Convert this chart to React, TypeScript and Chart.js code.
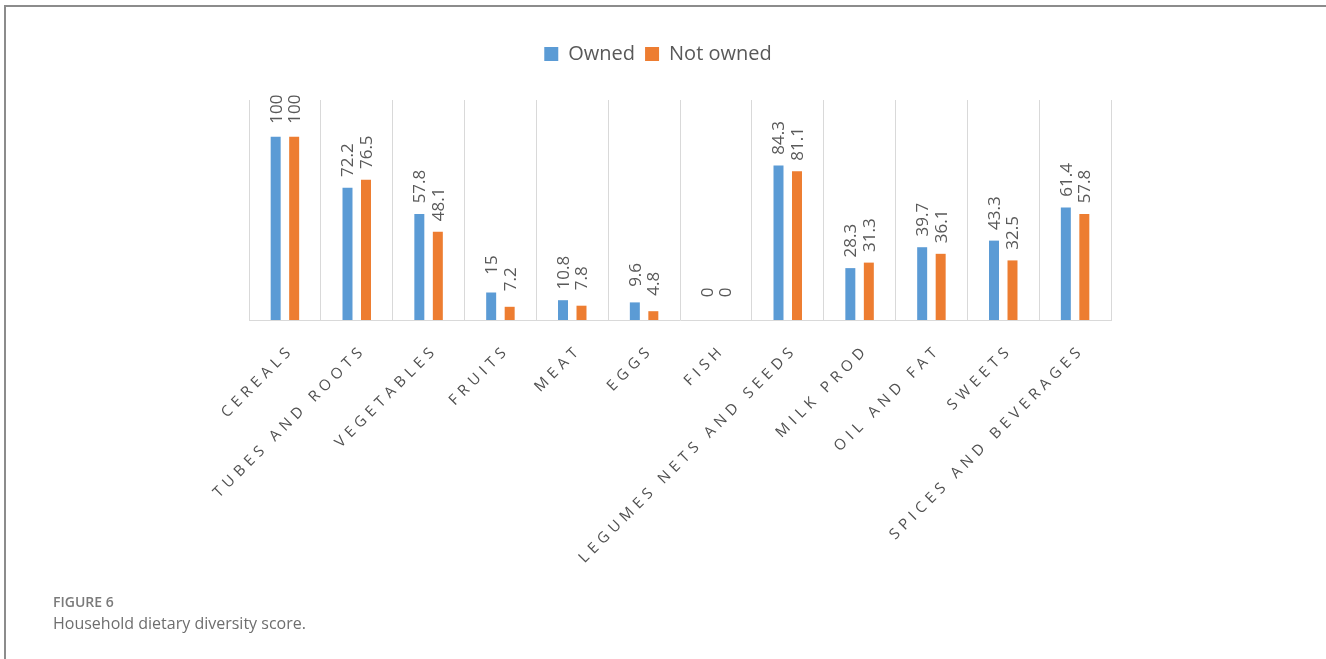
import React, { useEffect, useRef } from "react";
import { Chart, registerables } from "chart.js";

Chart.register(...registerables);

const categories = [
  "CEREALS",
  "TUBES AND ROOTS",
  "VEGETABLES",
  "FRUITS",
  "MEAT",
  "EGGS",
  "FISH",
  "LEGUMES NETS AND SEEDS",
  "MILK PROD",
  "OIL AND FAT",
  "SWEETS",
  "SPICES AND BEVERAGES",
];
const ownedValues = [100, 72.2, 57.8, 15, 10.8, 9.6, 0, 84.3, 28.3, 39.7, 43.3, 61.4];
const notOwnedValues = [100, 76.5, 48.1, 7.2, 7.8, 4.8, 0, 81.1, 31.3, 36.1, 32.5, 57.8];
const seriesNames = ["Owned", "Not owned"];

const FONT = "'Open Sans', 'Noto Sans', sans-serif";
const TEXT = "#595959";
const LABEL_SHIFT = 7;

const legendMargin = {
  id: "legendMargin",
  beforeInit(chart: any) {
    const legend = chart.legend;
    if (!legend) return;
    const orig = legend.fit;
    legend.fit = function fit() {
      orig.call(this);
      this.height += 26;
    };
  },
};

const valueLabels = {
  id: "valueLabels",
  afterDatasetsDraw(chart: any) {
    const ctx = chart.ctx;
    ctx.save();
    ctx.fillStyle = TEXT;
    ctx.font = `17px ${FONT}`;
    ctx.textAlign = "center";
    ctx.textBaseline = "middle";
    chart.data.datasets.forEach((ds: any, di: number) => {
      const meta = chart.getDatasetMeta(di);
      meta.data.forEach((el: any, i: number) => {
        const v = ds.data[i];
        ctx.save();
        ctx.translate(el.x + 1, el.y - 27.5);
        ctx.rotate(-Math.PI / 2);
        ctx.fillText(String(v), 0, 0);
        ctx.restore();
      });
    });
    ctx.restore();
    // letter spacing for the x-axis category labels drawn afterwards (ticks z = 1)
    ctx.save();
    (ctx as any).letterSpacing = "5px";
    ctx.translate(LABEL_SHIFT, 0);
  },
  afterDraw(chart: any) {
    chart.ctx.restore();
  },
};

export default function App() {
  const ref = useRef<HTMLCanvasElement | null>(null);

  useEffect(() => {
    if (!ref.current) return;
    const chart = new Chart(ref.current, {
      type: "bar",
      data: {
        labels: categories,
        datasets: [
          {
            label: seriesNames[0],
            data: ownedValues,
            backgroundColor: "#5B9BD5",
            barPercentage: 0.54,
            categoryPercentage: 0.515,
          },
          {
            label: seriesNames[1],
            data: notOwnedValues,
            backgroundColor: "#ED7D31",
            barPercentage: 0.54,
            categoryPercentage: 0.515,
          },
        ],
      },
      options: {
        responsive: false,
        animation: false,
        layout: { padding: { left: 205, right: 215, top: 34, bottom: 0 } },
        plugins: {
          legend: {
            position: "top",
            align: "center",
            labels: {
              boxWidth: 14,
              boxHeight: 14,
              padding: 10,
              color: TEXT,
              font: { family: FONT, size: 20 },
            },
          },
          tooltip: { enabled: false },
          title: { display: false },
        },
        scales: {
          x: {
            grid: {
              display: true,
              offset: true,
              color: "#d9d9d9",
              lineWidth: 1,
              drawTicks: false,
            },
            border: { display: true, color: "#d9d9d9", width: 1 },
            ticks: {
              z: 1,
              color: "#505050",
              font: { family: FONT, size: 15 },
              padding: 21,
              minRotation: 45,
              maxRotation: 45,
              autoSkip: false,
            },
            afterFit: (s: any) => {
              s.height = 339;
            },
          },
          y: {
            display: true,
            min: 0,
            max: 120,
            ticks: { display: false },
            grid: { display: false },
            border: { display: false },
            afterFit: (s: any) => {
              s.width = 44;
            },
          },
        },
      },
      plugins: [legendMargin, valueLabels],
    });
    return () => chart.destroy();
  }, []);

  return (
    <div
      style={{
        position: "fixed",
        left: 0,
        top: 0,
        width: 1326,
        height: 659,
        background: "#fff",
        overflow: "hidden",
      }}
    >
      <div
        style={{
          position: "absolute",
          left: 4,
          top: 5,
          width: 1330,
          height: 700,
          borderTop: "2px solid #8c8c8c",
          borderLeft: "2px solid #8c8c8c",
          boxSizing: "border-box",
        }}
      />
      <canvas
        ref={ref}
        width={1326}
        height={659}
        style={{ position: "absolute", left: 0, top: 0, width: 1326, height: 659 }}
      />
      <div
        style={{
          position: "absolute",
          left: 53,
          top: 593,
          fontFamily: FONT,
          fontSize: 14,
          fontWeight: 600,
          color: "#7a7a7a",
          lineHeight: "18px",
          whiteSpace: "nowrap",
        }}
      >
        FIGURE 6
      </div>
      <div
        style={{
          position: "absolute",
          left: 53,
          top: 613,
          fontFamily: FONT,
          fontSize: 16,
          color: "#6e6e6e",
          lineHeight: "20px",
          whiteSpace: "nowrap",
        }}
      >
        Household dietary diversity score.
      </div>
    </div>
  );
}
